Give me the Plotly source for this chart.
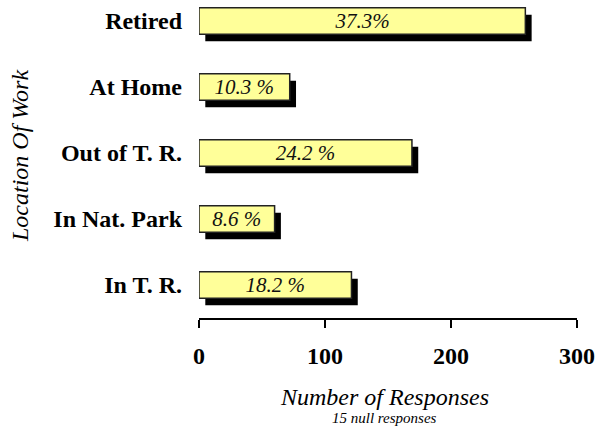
import plotly.graph_objects as go

# data
locations = ["In T. R.", "In Nat. Park", "Out of T. R.", "At Home", "Retired"]
responses = [121, 60, 169, 72, 259]
pct_labels = ["18.2 %", "8.6 %", "24.2 %", "10.3 %", "37.3%"]

SERIF = "Liberation Serif, Times New Roman, serif"
BAR_W = 0.4
SHADOW_DX = 5      # shadow shift along x, in data units
SHADOW_DY = 0.106  # shadow shift down, in category units

fig = go.Figure()

# drop shadow behind each bar
fig.add_trace(go.Bar(
    y=locations, x=responses, base=SHADOW_DX, orientation="h",
    width=BAR_W, offset=-BAR_W / 2 - SHADOW_DY,
    marker=dict(color="black", line=dict(width=0)),
    hoverinfo="skip", showlegend=False,
))

fig.add_trace(go.Bar(
    y=locations, x=responses, orientation="h",
    width=BAR_W, offset=-BAR_W / 2,
    marker=dict(color="#FFFF99", line=dict(color="#222222", width=1.5)),
    text=pct_labels, textposition="inside", insidetextanchor="middle",
    constraintext="none",
    textfont=dict(family=SERIF, size=21, color="#111111", style="italic"),
    cliponaxis=False, showlegend=False,
))

fig.update_layout(
    width=605, height=435,
    margin=dict(l=199, r=28, t=5, b=117),
    barmode="overlay",
    plot_bgcolor="white", paper_bgcolor="white",
    font=dict(family=SERIF, color="black"),
    showlegend=False,
)

fig.update_xaxes(
    range=[0, 300], tickvals=[0, 100, 200, 300],
    showgrid=False, zeroline=False, automargin=False,
    showline=True, linecolor="black", linewidth=2,
    ticks="outside", ticklen=8, tickwidth=2, tickcolor="black",
    ticklabelstandoff=7,
    tickfont=dict(family=SERIF, size=24, color="black", weight="bold"),
)
fig.update_yaxes(
    range=[-0.5, 4.242], automargin=False,
    showgrid=False, zeroline=False, showline=False, ticks="",
    ticklabelstandoff=16,
    tickfont=dict(family=SERIF, size=24, color="black", weight="bold"),
)

fig.add_annotation(
    text="Location Of Work", xref="paper", yref="paper",
    x=-0.4735, y=0.5176, xanchor="center", yanchor="middle",
    textangle=-90, showarrow=False,
    font=dict(family=SERIF, size=24, color="black", style="italic"),
)
fig.add_annotation(
    text="Number of Responses", xref="paper", yref="paper",
    x=0.492, y=-0.252, xanchor="center", yanchor="middle",
    showarrow=False,
    font=dict(family=SERIF, size=24, color="black", style="italic"),
)
fig.add_annotation(
    text="15 null responses", xref="paper", yref="paper",
    x=0.492, y=-0.32, xanchor="center", yanchor="middle",
    showarrow=False,
    font=dict(family=SERIF, size=15, color="black", style="italic"),
)

# drop the default 8px page margin so the figure sits at the window corner
fig.write_html("out.html", config={"displayModeBar": False},
               post_script="document.body.style.margin='0';")
